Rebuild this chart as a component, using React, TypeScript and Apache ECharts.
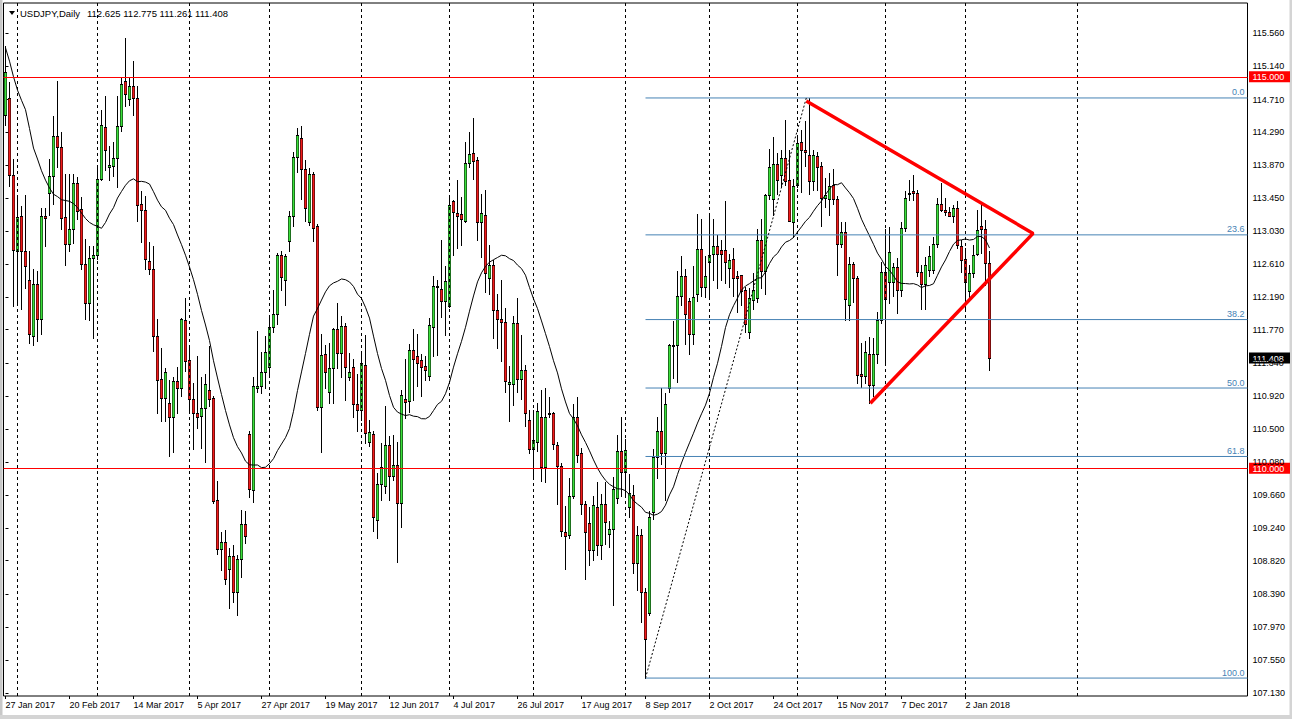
import React, { useEffect, useRef } from "react";
import * as echarts from "echarts";

// ---------- data ----------
const symbolName = "USDJPY,Daily";
const headerValues = ["112.625", "112.775", "111.261", "111.408"];
const firstDate = "2017-01-27";
const lastDate = "2018-01-10";
const holidays = ["2017-12-25", "2018-01-01"];
const futureSlots = 64;

// [open, high, low, close]
const ohlc: number[][] = [
  [114.51,115.39,114.39,115.06],[114.73,114.93,113.60,113.75],[113.75,113.95,112.07,112.79],[112.77,113.47,112.10,113.21],[113.22,113.35,112.03,112.78],
  [112.78,113.49,112.30,112.58],[112.41,112.77,111.60,111.71],[111.69,112.55,111.58,112.35],[112.36,112.52,111.62,111.91],[111.91,113.33,111.71,113.22],
  [113.22,113.33,112.84,113.20],[113.51,113.95,113.24,113.73],[113.73,114.50,113.37,114.24],[114.25,114.95,113.85,114.10],[114.10,114.29,113.05,113.20],
  [113.21,113.76,112.60,112.86],[112.86,113.76,112.77,113.05],[113.06,113.76,112.88,113.65],[113.65,113.72,113.19,113.28],[113.31,113.46,112.55,112.61],
  [112.61,112.93,111.91,112.11],[112.11,112.84,111.90,112.69],[112.68,112.84,111.67,112.73],[112.73,113.83,112.67,113.69],[113.69,114.58,113.68,114.39],
  [114.36,114.75,113.81,114.07],[113.85,114.12,113.68,113.88],[113.86,114.17,113.73,113.96],[113.96,114.75,113.59,114.37],[114.37,115.00,114.31,114.91],
  [114.95,115.50,114.63,114.78],[114.72,115.00,114.64,114.88],[114.88,115.20,114.51,114.73],[114.73,114.88,113.16,113.36],[113.37,113.54,112.89,113.30],
  [113.30,113.48,112.55,112.67],[112.65,112.89,112.48,112.55],[112.54,112.84,111.50,111.69],[111.69,111.91,110.71,111.13],[111.14,111.54,110.61,110.90],
  [110.90,111.28,110.60,111.23],[110.83,111.13,110.16,110.65],[110.65,111.16,110.21,111.12],[111.12,111.29,110.70,111.03],[111.03,111.92,110.92,111.91],
  [111.90,112.18,111.24,111.37],[111.38,111.56,110.75,110.88],[110.88,111.09,110.25,110.71],[110.71,111.44,110.52,110.65],[110.67,111.16,110.26,110.77],
  [110.77,111.21,110.08,111.07],[111.00,111.56,110.79,110.89],[110.90,110.92,109.55,109.58],[109.59,109.84,108.91,108.97],[108.97,109.19,108.70,109.06],
  [109.06,109.21,108.52,108.59],[108.71,108.98,108.22,108.88],[108.88,109.02,108.29,108.42],[108.42,108.89,108.12,108.84],[108.84,109.47,108.61,109.29],
  [109.29,109.45,109.04,109.13],[110.44,110.47,109.63,109.73],[109.72,111.16,109.57,111.05],[111.03,111.75,110.97,111.05],[111.05,111.48,110.96,111.23],
  [111.23,111.69,111.03,111.48],[111.29,111.93,111.21,111.80],[111.80,112.28,111.74,111.97],[111.97,112.75,111.84,112.72],[112.72,112.77,112.28,112.44],
  [112.41,112.74,112.08,112.71],[112.90,113.29,112.77,113.22],[113.22,114.04,113.09,113.98],[113.98,114.35,113.78,114.26],[114.22,114.37,113.44,113.82],
  [113.82,113.94,113.16,113.32],[113.14,113.83,113.11,113.76],[113.76,113.78,112.90,113.07],[113.09,113.12,110.75,110.78],[110.78,111.72,110.21,111.45],
  [111.46,111.58,111.02,111.23],[110.97,111.60,110.84,111.28],[111.28,111.79,110.84,111.78],[111.78,112.11,111.28,111.47],[111.47,111.94,111.17,111.82],
  [111.82,111.85,110.87,111.29],[111.16,111.47,111.13,111.23],[111.29,111.39,110.66,110.82],[110.82,111.21,110.47,110.74],[110.74,111.49,110.62,111.35],
  [111.32,111.70,110.32,110.45],[110.33,110.62,110.29,110.46],[110.44,110.47,109.20,109.38],[109.34,109.94,109.11,109.80],[109.80,110.32,109.60,110.01],
  [109.77,110.80,109.68,110.30],[110.30,110.41,109.60,109.90],[109.90,110.43,109.85,110.04],[110.04,110.34,108.80,109.55],[109.55,111.00,109.25,110.94],
  [110.89,111.40,110.64,110.85],[110.86,111.59,110.72,111.51],[111.51,111.78,110.87,111.40],[111.43,111.72,111.05,111.35],[111.38,111.46,110.92,111.29],
  [111.30,111.43,111.13,111.26],[111.18,111.92,111.13,111.83],[111.81,112.46,111.43,112.33],[112.33,112.41,111.45,112.31],[112.29,112.92,111.93,112.14],
  [112.14,112.58,111.70,112.39],[112.07,113.47,112.06,113.36],[113.41,113.43,112.72,113.27],[113.26,113.68,112.81,113.22],[113.25,113.47,112.85,113.18],
  [113.16,114.17,113.15,113.90],[113.90,114.29,113.85,114.01],[114.03,114.48,113.70,113.93],[113.94,113.98,112.92,113.14],[113.14,113.50,112.70,113.26],
  [113.24,113.55,112.25,112.49],[112.43,112.85,112.23,112.60],[112.60,112.66,111.66,112.02],[112.02,112.23,111.53,111.91],[111.91,112.40,111.37,111.87],
  [111.87,112.05,110.98,111.12],[111.08,111.30,110.60,111.10],[111.08,111.94,110.81,111.85],[111.85,112.17,110.98,111.14],[111.14,111.70,110.89,111.25],
  [111.25,111.32,110.54,110.70],[110.62,110.74,110.19,110.24],[110.24,110.74,109.90,110.36],[110.34,110.84,110.22,110.73],[110.65,111.00,109.84,110.02],
  [110.01,111.03,109.83,110.65],[110.69,110.91,110.65,110.71],[110.71,110.72,110.24,110.31],[110.30,110.34,109.54,110.03],[110.03,110.07,109.14,109.20],
  [109.19,109.52,108.71,109.13],[109.15,109.88,109.11,109.64],[109.64,110.82,109.62,110.65],[110.65,110.91,110.08,110.17],[110.19,110.26,109.41,109.54],
  [109.54,109.58,108.59,109.19],[109.30,109.50,108.77,108.95],[108.96,109.64,108.83,109.53],[109.50,109.82,108.89,109.02],[109.02,109.67,108.84,109.54],
  [109.54,109.83,109.03,109.31],[109.16,109.33,108.99,109.22],[109.22,109.89,108.25,109.73],[109.62,110.43,109.55,110.22],[110.22,110.66,109.65,109.95],
  [109.95,110.37,109.66,110.23],[109.50,109.93,109.38,109.68],[109.66,109.79,108.66,108.79],[108.79,109.26,108.45,109.15],[109.15,109.23,108.03,108.42],
  [108.42,108.47,107.32,107.82],[108.15,109.45,108.13,109.38],[109.44,110.25,109.35,110.14],[110.15,110.66,109.88,110.48],[110.48,111.03,110.05,110.20],
  [110.20,110.96,109.59,110.82],[111.03,111.59,110.98,111.57],[111.56,111.88,111.15,111.58],[111.58,112.52,111.10,112.20],[112.20,112.71,112.08,112.45],
  [112.45,112.54,111.59,111.97],[112.14,112.18,111.46,111.72],[111.72,112.58,111.59,112.19],[112.22,113.25,112.14,112.80],[112.80,113.18,112.20,112.31],
  [112.31,112.71,112.19,112.46],[112.64,113.24,112.20,112.72],[112.74,113.19,112.40,112.84],[112.84,112.98,112.30,112.74],[112.79,112.92,112.40,112.74],
  [112.79,113.42,112.37,112.64],[112.56,112.74,112.32,112.66],[112.67,112.81,112.20,112.43],[112.46,112.52,112.00,112.43],[112.47,112.47,112.08,112.27],
  [112.28,112.32,111.74,111.84],[111.74,112.30,111.66,112.18],[112.15,112.50,112.03,112.28],[112.18,113.06,112.13,112.92],[112.92,113.19,112.30,112.52],
  [112.52,113.50,112.23,113.49],[113.49,114.08,113.44,113.85],[113.44,114.23,113.23,113.89],[113.89,114.03,113.50,113.68],[113.74,114.06,113.59,113.96],
  [113.96,114.45,113.62,113.67],[113.68,114.06,113.16,113.16],[113.15,113.70,112.96,113.60],[113.62,114.23,113.59,114.15],[114.17,114.32,113.53,114.07],
  [114.07,114.44,113.86,114.04],[114.00,114.73,113.50,113.67],[113.67,114.06,113.55,114.00],[113.99,114.04,113.55,113.85],[113.86,113.91,113.09,113.45],
  [113.45,113.71,113.34,113.49],[113.44,113.77,113.24,113.60],[113.62,113.82,113.38,113.44],[113.44,113.48,112.47,112.86],[112.86,113.15,112.83,113.02],
  [113.02,113.15,111.89,112.16],[112.09,112.70,111.89,112.61],[112.61,112.64,112.13,112.43],[112.43,112.45,111.09,111.19],[111.20,111.60,111.04,111.18],
  [111.18,111.62,111.09,111.49],[111.46,111.68,110.83,111.06],[111.06,111.66,110.92,111.46],[111.46,112.00,111.35,111.89],[111.89,112.64,111.85,112.51],
  [112.51,113.06,111.36,112.16],[112.38,113.08,112.11,112.76],[112.38,112.62,112.20,112.57],[112.57,112.69,111.98,112.28],[112.28,113.15,112.20,113.07],
  [113.07,113.54,113.03,113.45],[113.52,113.68,113.43,113.50],[113.54,113.74,113.43,113.52],[113.52,113.55,112.45,112.51],[112.51,112.60,112.04,112.36],
  [112.36,112.70,112.03,112.60],[112.53,112.84,112.45,112.71],[112.53,112.96,112.50,112.87],[112.87,113.45,112.83,113.37],[113.37,113.64,113.28,113.30],
  [113.30,113.45,113.24,113.27],[113.27,113.34,113.22,113.22],[113.22,113.36,113.15,113.32],[113.33,113.42,112.81,112.85],[112.84,112.92,112.51,112.66],
  [112.67,112.81,112.04,112.38],[112.26,112.59,112.15,112.49],[112.49,112.85,112.44,112.72],[112.74,113.30,112.72,113.04],[113.10,113.38,112.75,113.06],
  [113.06,113.17,112.34,112.62],[112.625,112.775,111.261,111.408],
];

// moving average (20): first values, rest computed from closes
const maPeriod = 20;
const maHead = [115.37,115.20,115.00,114.83,114.70,114.58,114.34,114.09,113.95,113.80,113.68,113.58,113.50,113.47,113.43,113.42,113.41,113.38,113.33,113.26,113.19,113.14,113.11,113.09];

const yTicks = [115.56,115.14,114.71,114.29,113.87,113.45,113.03,112.61,112.19,111.77,111.34,110.92,110.5,110.08,109.66,109.24,108.82,108.39,107.97,107.55,107.13];
const yMin = 107.091;
const yMax = 115.943;
const labelEvery = 16;
const monthLineIdx = [3, 23, 46, 66, 89, 111, 132, 155, 176, 198, 220, 240, 268];
const roundLevels = [115, 110];
const lastPrice = 111.408;

const fibLowIdx = 160;
const fibLow = 107.32;
const fibHighIdx = 200.2;
const fibHigh = 114.73;
const fibLevels = [0, 23.6, 38.2, 50, 61.8, 100];

const triangle = [[200.2, 114.69], [256.9, 113.0], [216.2, 110.83]];

const BULL = "#3ae03a";
const BEAR = "#f21a1a";

// ---------- helpers ----------
const MONTHS = ["Jan","Feb","Mar","Apr","May","Jun","Jul","Aug","Sep","Oct","Nov","Dec"];
function buildDates(): string[] {
  const out: string[] = [];
  const [y0, m0, d0] = firstDate.split("-").map(Number);
  const [y1, m1, d1] = lastDate.split("-").map(Number);
  const d = new Date(Date.UTC(y0, m0 - 1, d0));
  const end = Date.UTC(y1, m1 - 1, d1);
  while (d.getTime() <= end) {
    const wd = d.getUTCDay();
    const iso = d.toISOString().slice(0, 10);
    if (wd !== 0 && wd !== 6 && holidays.indexOf(iso) < 0) out.push(iso);
    d.setUTCDate(d.getUTCDate() + 1);
  }
  return out;
}
function fmtDate(iso: string) {
  const [y, m, d] = iso.split("-").map(Number);
  return `${d} ${MONTHS[m - 1]} ${y}`;
}

const FONT = '"Liberation Sans", Arial, sans-serif';

export default function App() {
  const ref = useRef<HTMLDivElement>(null);
  useEffect(() => {
    const el = ref.current;
    if (!el) return;
    const chart = echarts.init(el, null, { renderer: "svg" });

    const dates = buildDates();
    const nBars = ohlc.length;
    const cats = dates.slice(0, nBars).concat(Array.from({ length: futureSlots }, (_, i) => `f${i}`));
    const nCats = cats.length;
    const closes = ohlc.map((r) => r[3]);
    const ma = closes.map((_, i) => {
      if (i < maHead.length) return maHead[i];
      let s = 0;
      for (let k = i - maPeriod + 1; k <= i; k++) s += closes[k];
      return +(s / maPeriod).toFixed(4);
    });
    const showIdx = (i: number) => i % labelEvery === 0 && i < nBars;

    const gridLeft = 3.5;
    const gridTop = 3;
    const gridW = nCats * 4;
    const gridH = 693;
    const gridRight = gridLeft + gridW;

    const fibPrice = (lvl: number) => fibHigh - ((fibHigh - fibLow) * lvl) / 100;

    const overlay = (data: number[][], lineStyle: any, z = 4) => ({
      type: "line",
      xAxisIndex: 1,
      yAxisIndex: 0,
      data,
      symbol: "none",
      silent: true,
      lineStyle,
      z,
      animation: false,
    });

    const renderCandle = (params: any, api: any) => {
      const i = api.value(0);
      const o = api.value(1);
      const c = api.value(2);
      const l = api.value(3);
      const h = api.value(4);
      const px = api.coord([i, o])[0];
      const k = Math.floor(px);
      const yo = api.coord([i, o])[1];
      const yc = api.coord([i, c])[1];
      const yl = api.coord([i, l])[1];
      const yh = api.coord([i, h])[1];
      const top = Math.round(Math.min(yo, yc));
      const bot = Math.max(top + 1, Math.round(Math.max(yo, yc)));
      const bull = c >= o;
      const children: any[] = [
        { type: "rect", shape: { x: k, y: Math.round(yh), width: 1, height: Math.max(1, Math.round(yl) - Math.round(yh) + 1) }, style: { fill: "#000" } },
        { type: "rect", shape: { x: k - 1, y: top, width: 3, height: bot - top + 1 }, style: { fill: "#000" } },
      ];
      if (bot - top >= 2) {
        children.push({ type: "rect", shape: { x: k - 0.5, y: top + 1, width: 2, height: bot - top - 1 }, style: { fill: bull ? BULL : BEAR } });
      }
      return { type: "group", children };
    };

    const option: any = {
      animation: false,
      backgroundColor: "#ffffff",
      grid: {
        left: gridLeft,
        top: gridTop,
        width: gridW,
        height: gridH,
        show: true,
        borderColor: "#000",
        borderWidth: 1,
        backgroundColor: "transparent",
      },
      xAxis: [
        {
          type: "category",
          data: cats,
          boundaryGap: true,
          axisLine: { show: false },
          axisTick: { show: true, alignWithLabel: true, interval: (i: number) => showIdx(i), length: 3, lineStyle: { color: "#000" } },
          axisLabel: {
            interval: (i: number) => showIdx(i),
            formatter: (v: string) => (v.charAt(0) === "f" ? "" : fmtDate(v)),
            align: "left",
            margin: 4,
            fontSize: 9,
            fontFamily: FONT,
            color: "#000",
          },
          splitLine: { show: false },
        },
        { type: "value", min: -0.5, max: nCats - 0.5, show: false },
      ],
      yAxis: {
        type: "value",
        position: "right",
        min: yMin,
        max: yMax,
        axisLine: { show: false },
        axisTick: { show: true, length: 3, customValues: yTicks, lineStyle: { color: "#000" } },
        axisLabel: {
          customValues: yTicks,
          formatter: (v: number) => v.toFixed(3),
          fontSize: 9,
          fontFamily: FONT,
          color: "#000",
          margin: 5,
        },
        splitLine: { show: false },
      },
      series: [
        {
          type: "custom",
          xAxisIndex: 0,
          yAxisIndex: 0,
          data: ohlc.map(([o, h, l, c], i) => [i, o, c, l, h]),
          encode: { x: 0, y: [1, 2, 3, 4] },
          renderItem: renderCandle,
          silent: true,
          clip: true,
          z: 2,
          markLine: {
            silent: true,
            symbol: ["none", "none"],
            label: { show: false },
            animation: false,
            data: [
              ...monthLineIdx.map((i) => ({ xAxis: i, lineStyle: { type: [3, 3], color: "#000", width: 1 } })),
              ...roundLevels.map((v) => ({ yAxis: v, lineStyle: { type: "solid", color: "#ff0000", width: 1 } })),
            ],
          },
        },
        {
          type: "line",
          xAxisIndex: 0,
          yAxisIndex: 0,
          data: ma,
          symbol: "none",
          silent: true,
          lineStyle: { color: "#000", width: 1 },
          z: 3,
        },
        ...fibLevels.map((lvl) =>
          overlay([[fibLowIdx, fibPrice(lvl)], [nCats - 0.5, fibPrice(lvl)]], { color: "#4682b4", width: 1 }, 3)
        ),
        overlay([[fibLowIdx, fibLow], [fibHighIdx, fibHigh]], { color: "#000", width: 1, type: [2, 2] }, 3),
        overlay(triangle, { color: "#ff0000", width: 3.5 }, 5),
      ],
    };
    chart.setOption(option);

    const py = (v: number) => chart.convertToPixel({ yAxisIndex: 0 }, v) as number;
    const g: any[] = [
      { type: "rect", silent: true, shape: { x: 0, y: 0, width: 2.5, height: 719 }, style: { fill: "#c8c8c8" } },
      { type: "rect", silent: true, shape: { x: 0, y: 715, width: 1292, height: 4 }, style: { fill: "#d4d4d4" } },
      { type: "rect", silent: true, shape: { x: 1289.5, y: 0, width: 2.5, height: 719 }, style: { fill: "#d4d4d4" } },
      { type: "polygon", silent: true, shape: { points: [[9, 11], [15, 11], [12, 15]] }, style: { fill: "#000" } },
      { type: "text", silent: true, x: 20, y: 13, style: { text: symbolName, fill: "#000", font: `9.5px ${FONT}`, align: "left", verticalAlign: "middle" } },
      { type: "text", silent: true, x: 87, y: 13, style: { text: headerValues.join(" "), fill: "#000", font: `9.5px ${FONT}`, align: "left", verticalAlign: "middle" } },
    ];
    fibLevels.forEach((lvl) => {
      g.push({
        type: "text",
        silent: true,
        x: gridRight - 3,
        y: py(fibPrice(lvl)) - 1,
        style: { text: lvl.toFixed(1), fill: "#4682b4", font: `9px ${FONT}`, align: "right", verticalAlign: "bottom" },
      });
    });
    const box = (v: number, bg: string) => {
      const y = py(v);
      g.push({ type: "rect", silent: true, shape: { x: gridRight + 1.5, y: y - 5.5, width: 41, height: 11 }, style: { fill: bg } });
      g.push({
        type: "text",
        silent: true,
        x: gridRight + 5,
        y: y + 0.5,
        style: { text: v.toFixed(3), fill: "#fff", font: `9px ${FONT}`, align: "left", verticalAlign: "middle" },
      });
    };
    roundLevels.forEach((v) => box(v, "#ff0000"));
    box(lastPrice, "#000");
    chart.setOption({ graphic: g });

    return () => chart.dispose();
  }, []);
  return (
    <div
      ref={ref}
      style={{ position: "absolute", left: 0, top: 0, width: 1292, height: 719, background: "#fff" }}
    />
  );
}
